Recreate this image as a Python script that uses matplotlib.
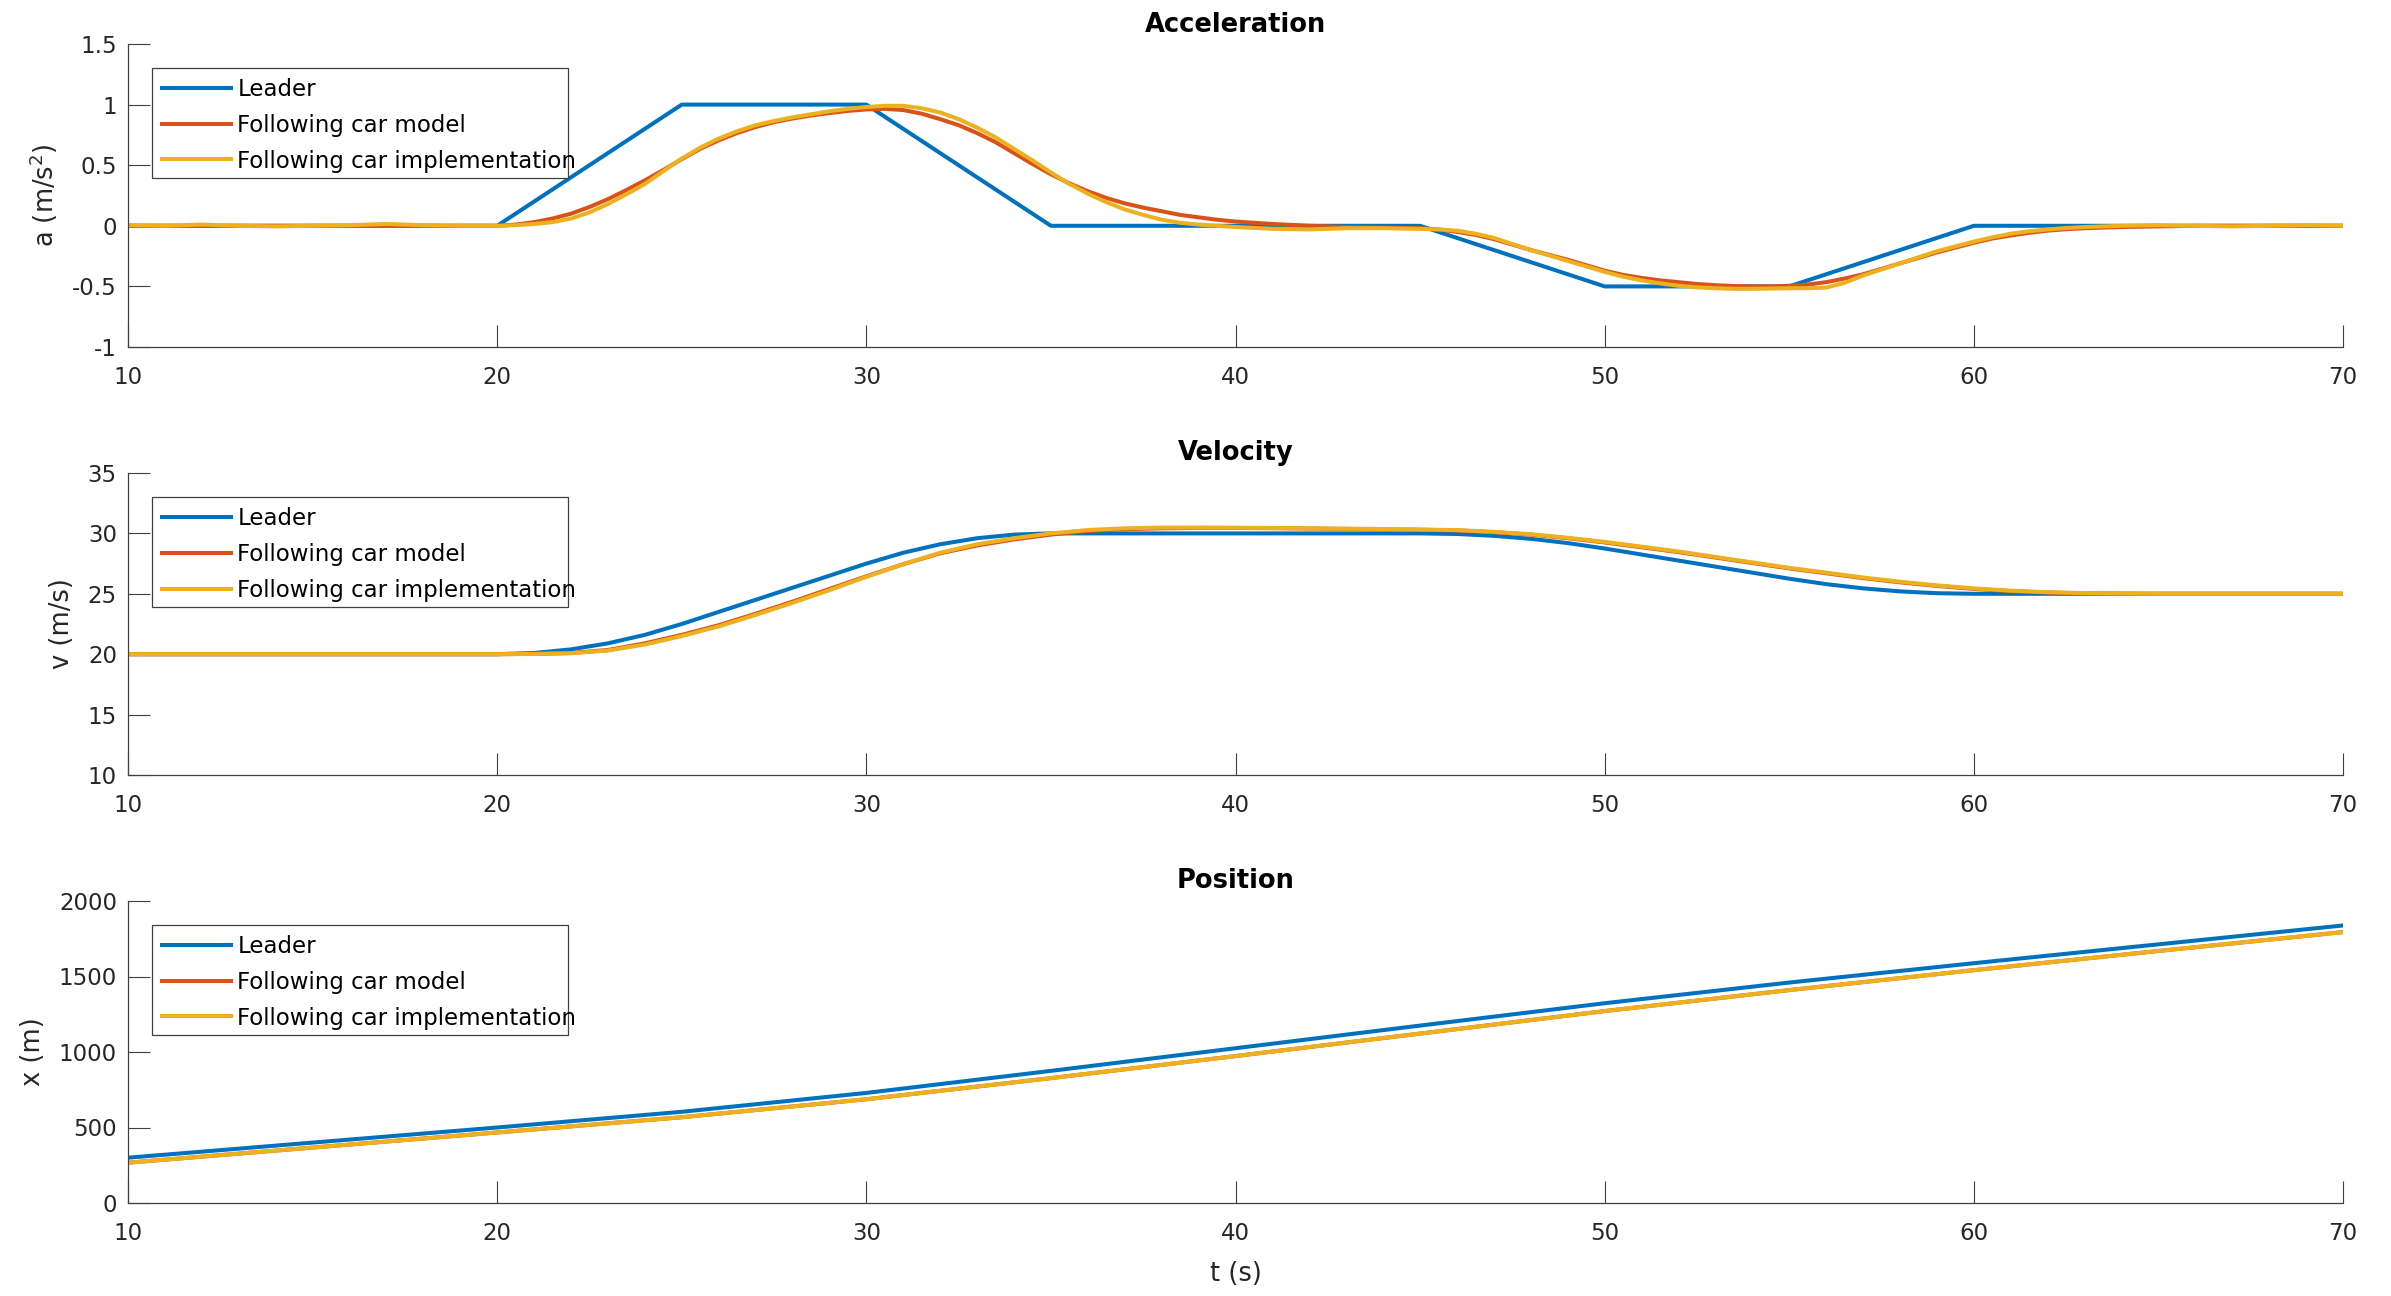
import numpy as np
import matplotlib
matplotlib.use("Agg")
import matplotlib.pyplot as plt
from matplotlib.ticker import FuncFormatter
from matplotlib.patches import Rectangle

plt.rcParams["font.family"] = ["DejaVu Sans"]
plt.rcParams["axes.unicode_minus"] = False
plt.rcParams["mathtext.fontset"] = "dejavusans"

# ---------------- data ----------------
series_names = ["Leader", "Following car model", "Following car implementation"]
colors = ["#0072BD", "#D95319", "#EDB120"]

# leader acceleration breakpoints (piecewise linear profile)
lead_acc_t = [10, 20, 25, 30, 35, 45, 50, 55, 60, 70]
lead_acc = [0, 0, 1, 1, 0, 0, -0.5, -0.5, 0, 0]

# sample times of the follower acceleration traces (denser where they bend)
acc_t = np.concatenate([np.arange(10, 20, 1.0), np.arange(20, 40.5, 0.5),
                        np.arange(41, 46, 1.0), np.arange(45.5, 63.5, 0.5),
                        np.arange(64, 71, 1.0)])

model_acc = [0, 0, 0, 0, 0, 0, 0, 0, 0, 0,
             # 20 .. 40 (every 0.5 s)
             0.0, 0.01, 0.03, 0.06, 0.10, 0.155, 0.22, 0.295, 0.375, 0.46,
             0.55, 0.635, 0.705, 0.765, 0.815, 0.855, 0.885, 0.91, 0.93, 0.948,
             0.96, 0.965, 0.955, 0.925, 0.88, 0.83, 0.765, 0.69, 0.60, 0.51,
             0.425, 0.35, 0.285, 0.23, 0.185, 0.15, 0.12, 0.09, 0.07, 0.05,
             0.035,
             # 41 .. 45
             0.015, 0.0, -0.01, -0.015, -0.02,
             # 45.5 .. 63 (every 0.5 s)
             -0.03, -0.05, -0.075, -0.11, -0.155, -0.20, -0.24, -0.28, -0.325, -0.37,
             -0.405, -0.43, -0.45, -0.465, -0.48, -0.49, -0.497, -0.50, -0.50, -0.495,
             -0.485, -0.465, -0.435, -0.40, -0.355, -0.31, -0.265, -0.22, -0.18, -0.14,
             -0.105, -0.08, -0.058, -0.04, -0.028, -0.02,
             # 64 .. 70
             -0.01, -0.005, 0, 0, 0, 0, 0]

impl_acc = [0.005, 0.0, 0.01, 0.0, -0.005, 0.0, 0.005, 0.015, 0.005, 0.0,
            # 20 .. 40 (every 0.5 s)
            0.0, 0.005, 0.015, 0.03, 0.06, 0.11, 0.18, 0.26, 0.345, 0.45,
            0.555, 0.645, 0.72, 0.78, 0.83, 0.865, 0.895, 0.92, 0.945, 0.965,
            0.98, 0.99, 0.99, 0.97, 0.935, 0.88, 0.81, 0.73, 0.635, 0.54,
            0.44, 0.345, 0.265, 0.195, 0.135, 0.09, 0.05, 0.025, 0.01, 0.0,
            -0.01,
            # 41 .. 45
            -0.025, -0.03, -0.02, -0.02, -0.025,
            # 45.5 .. 63 (every 0.5 s)
            -0.03, -0.04, -0.065, -0.10, -0.15, -0.20, -0.245, -0.29, -0.335, -0.38,
            -0.42, -0.45, -0.475, -0.495, -0.508, -0.515, -0.52, -0.52, -0.518, -0.515,
            -0.515, -0.51, -0.47, -0.41, -0.36, -0.31, -0.26, -0.21, -0.17, -0.13,
            -0.095, -0.065, -0.045, -0.03, -0.018, -0.01,
            # 64 .. 70
            0.0, 0.005, 0.0, -0.005, 0.0, 0.005, 0.0]

vel_t = np.arange(10, 71)  # one sample per second

lead_vel = [20, 20, 20, 20, 20, 20, 20, 20, 20, 20,
            20, 20.1, 20.4, 20.9, 21.6, 22.5, 23.5, 24.5, 25.5, 26.5,
            27.5, 28.4, 29.1, 29.6, 29.9, 30, 30, 30, 30, 30,
            30, 30, 30, 30, 30, 30, 29.95, 29.8, 29.55, 29.2,
            28.75, 28.25, 27.75, 27.25, 26.75, 26.25, 25.8, 25.45, 25.2, 25.05,
            25, 25, 25, 25, 25, 25, 25, 25, 25, 25, 25]

model_vel = [20, 20, 20, 20, 20, 20, 20, 20, 20, 20,
             20, 20.03, 20.1, 20.35, 20.9, 21.6, 22.4, 23.35, 24.35, 25.4,
             26.45, 27.45, 28.35, 29.0, 29.5, 29.9, 30.2, 30.35, 30.42, 30.45,
             30.45, 30.43, 30.4, 30.37, 30.34, 30.3, 30.25, 30.1, 29.9, 29.6,
             29.25, 28.85, 28.45, 28.0, 27.55, 27.1, 26.7, 26.3, 25.95, 25.65,
             25.4, 25.22, 25.1, 25.04, 25.01, 25, 25, 25, 25, 25, 25]

impl_vel = [20, 20, 20, 20, 20, 20, 20, 20, 20, 20,
            20, 20.02, 20.08, 20.3, 20.8, 21.5, 22.3, 23.25, 24.25, 25.3,
            26.4, 27.45, 28.4, 29.1, 29.6, 30.0, 30.28, 30.42, 30.48, 30.48,
            30.47, 30.45, 30.42, 30.39, 30.36, 30.32, 30.27, 30.13, 29.93, 29.64,
            29.3, 28.9, 28.5, 28.05, 27.6, 27.15, 26.75, 26.35, 26.0, 25.7,
            25.45, 25.26, 25.13, 25.06, 25.02, 25, 25, 25, 25, 25, 25]

t_pos = [10, 15, 20, 25, 30, 35, 40, 45, 50, 55, 60, 65, 70]
lead_pos = [300, 400, 500, 604, 729, 875, 1025, 1175, 1323, 1460, 1588, 1713, 1838]
model_pos = [267, 367, 467, 568, 687, 827, 973, 1122, 1271, 1410, 1542, 1669, 1794]
impl_pos = [267, 367, 467, 568, 687, 827, 973, 1122, 1271, 1410, 1542, 1669, 1794]

x_ticks = [10, 20, 30, 40, 50, 60, 70]
acc_ticks = [-1, -0.5, 0, 0.5, 1, 1.5]
vel_ticks = [10, 15, 20, 25, 30, 35]
pos_ticks = [0, 500, 1000, 1500, 2000]

# ---------------- figure ----------------
W, H = 2391, 1296
fig = plt.figure(figsize=(W / 100, H / 100), dpi=100)

def frac(left, top, right, bottom):
    return [left / W, 1 - bottom / H, (right - left) / W, (bottom - top) / H]

ax_boxes = [(128, 44, 2343, 347), (128, 473, 2343, 775), (128, 901, 2343, 1203)]
ax1, ax2, ax3 = [fig.add_axes(frac(*b)) for b in ax_boxes]

LW = 2.9
TICK_FS = 16.5
LEG_FS = 16.5
LABEL_FS = 18.5
AX_COLOR = "#404040"
fmt = FuncFormatter(lambda v, p: "%g" % v)

# legend box, in pixels relative to the axes' top-left corner
LEG_LEFT, LEG_TOP, LEG_RIGHT, LEG_BOTTOM = 24, 24, 440, 134

panels = [
    (ax1, "Acceleration", "a (m/s$^2$)", (-1, 1.5), acc_ticks,
     [(lead_acc_t, lead_acc), (acc_t, model_acc), (acc_t, impl_acc)]),
    (ax2, "Velocity", "v (m/s)", (10, 35), vel_ticks,
     [(vel_t, lead_vel), (vel_t, model_vel), (vel_t, impl_vel)]),
    (ax3, "Position", "x (m)", (0, 2000), pos_ticks,
     [(t_pos, lead_pos), (t_pos, model_pos), (t_pos, impl_pos)]),
]

for (ax, title, ylabel, ylim, yticks, lines), box in zip(panels, ax_boxes):
    for (xs, ys), name, c in zip(lines, series_names, colors):
        ax.plot(xs, ys, color=c, lw=LW, label=name, solid_joinstyle="round")
    ax.set_xlim(10, 70)
    ax.set_ylim(*ylim)
    ax.set_xticks(x_ticks)
    ax.set_yticks(yticks)
    ax.xaxis.set_major_formatter(fmt)
    ax.yaxis.set_major_formatter(fmt)
    for s in ("top", "right"):
        ax.spines[s].set_visible(False)
    for s in ("left", "bottom"):
        ax.spines[s].set_color(AX_COLOR)
        ax.spines[s].set_linewidth(0.9)
    ax.tick_params(axis="both", direction="in", length=15.8, width=0.8,
                   color=AX_COLOR, labelcolor="#262626", labelsize=TICK_FS)
    ax.tick_params(axis="y", pad=8)
    ax.tick_params(axis="x", pad=14)
    ax.set_title(title, fontsize=LABEL_FS, fontweight="bold", pad=9)
    ax.set_ylabel(ylabel, fontsize=LABEL_FS, color="#262626", labelpad=9)

    aw, ah = box[2] - box[0], box[3] - box[1]
    x0, y0 = LEG_LEFT / aw, 1 - LEG_TOP / ah
    ax.legend(loc="upper left", bbox_to_anchor=(x0, y0),
              borderaxespad=0, fontsize=LEG_FS, frameon=False,
              handlelength=3.0, handletextpad=0.27,
              borderpad=0.45, labelspacing=0.55)
    ax.add_patch(Rectangle((x0, 1 - LEG_BOTTOM / ah),
                           (LEG_RIGHT - LEG_LEFT) / aw,
                           (LEG_BOTTOM - LEG_TOP) / ah,
                           transform=ax.transAxes, fill=True, facecolor="white",
                           edgecolor=AX_COLOR, lw=0.9, zorder=4))

ax3.set_xlabel("t (s)", fontsize=LABEL_FS, color="#262626", labelpad=11)

fig.savefig("out.png", dpi=100, facecolor="white")
